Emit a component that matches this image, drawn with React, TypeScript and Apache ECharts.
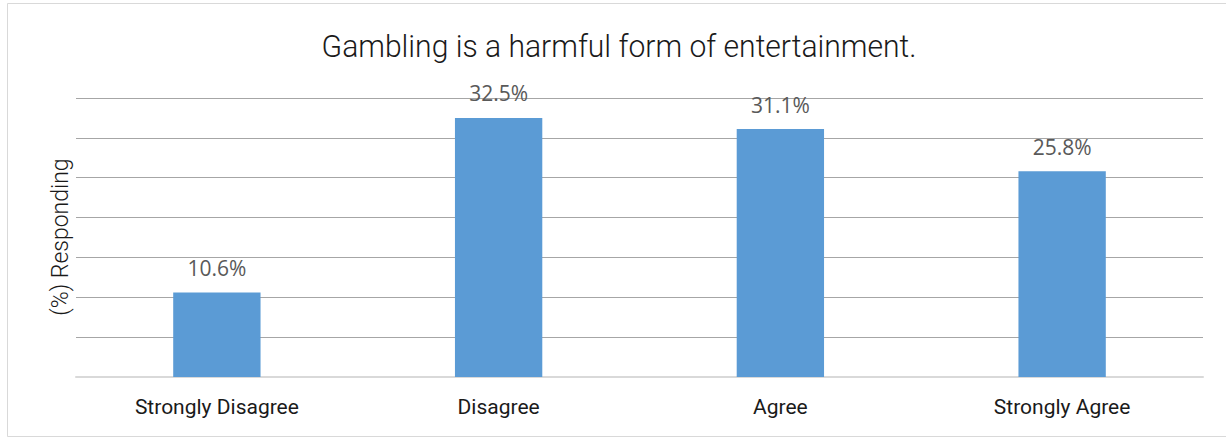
import React, { useEffect, useRef } from "react";
import * as echarts from "echarts";

const categories = ["Strongly Disagree", "Disagree", "Agree", "Strongly Agree"];
const values = [10.6, 32.5, 31.1, 25.8];
const titleText = "Gambling is a harmful form of entertainment.";
const yAxisName = "(%) Responding";
const yMin = 0;
const yMax = 35;
const yInterval = 5;

export default function App() {
  const ref = useRef<HTMLDivElement>(null);
  useEffect(() => {
    if (!ref.current) return;
    const chart = echarts.init(ref.current, null, { renderer: "svg" });
    chart.setOption({
      animation: false,
      backgroundColor: "#ffffff",
      graphic: [
        {
          type: "polyline",
          shape: {
            points: [
              [1300, 3.5],
              [7.5, 3.5],
              [7.5, 436.5],
              [1300, 436.5],
            ],
          },
          style: { fill: "none", stroke: "#d9d9d9", lineWidth: 1 },
          silent: true,
        },
        {
          type: "text",
          x: 619,
          y: 46,
          scaleX: 0.94,
          style: {
            text: titleText,
            font: "300 32px Roboto",
            fill: "#1a1a1a",
            align: "center",
            verticalAlign: "middle",
          },
        },
        {
          type: "text",
          x: 60,
          y: 237,
          rotation: Math.PI / 2,
          style: {
            text: yAxisName,
            font: "300 23px Roboto",
            fill: "#1a1a1a",
            align: "center",
            verticalAlign: "middle",
          },
        },
      ],
      grid: { left: 76, right: 23, top: 98, bottom: 61 },
      xAxis: {
        type: "category",
        data: categories,
        axisTick: { show: false },
        axisLine: { lineStyle: { color: "#d9d9d9", width: 2 } },
        axisLabel: {
          margin: 19,
          fontFamily: "Roboto",
          fontSize: 21,
          color: "#1a1a1a",
        },
      },
      yAxis: {
        type: "value",
        min: yMin,
        max: yMax,
        interval: yInterval,
        axisLabel: { show: false },
        axisLine: { show: false },
        axisTick: { show: false },
        splitLine: { lineStyle: { color: "#a6a6a6", width: 1 } },
      },
      series: [
        {
          type: "bar",
          data: values,
          barWidth: "31%",
          itemStyle: { color: "#5b9bd5" },
          label: {
            show: true,
            position: "top",
            distance: 14,
            formatter: (p: any) => p.value.toFixed(1) + "%",
            fontFamily: "Open Sans",
            fontSize: 21,
            color: "#595959",
          },
        },
      ],
    });
    return () => chart.dispose();
  }, []);
  return (
    <div
      ref={ref}
      style={{ position: "absolute", left: 0, top: 0, width: 1226, height: 438 }}
    />
  );
}
